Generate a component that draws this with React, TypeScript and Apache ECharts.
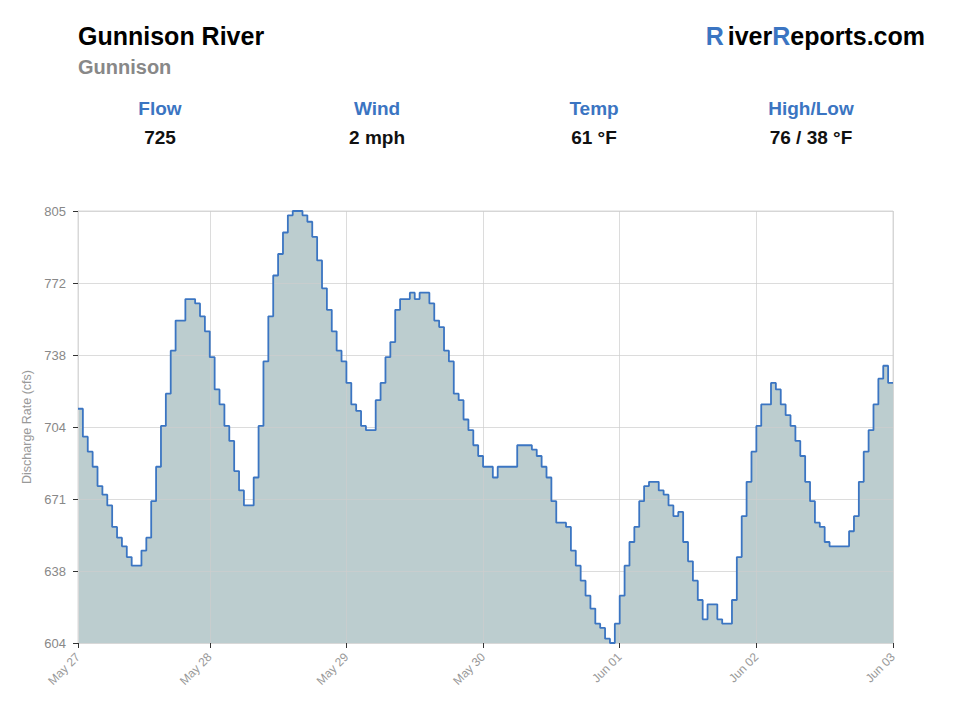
import React, { useEffect, useRef } from 'react';
import * as echarts from 'echarts';

// Hourly discharge (cfs), May 27 → Jun 03
const flowValues = [
  713, 700, 693, 686, 677, 673, 668, 658, 653, 649, 644, 640, 640, 647, 653, 670,
  686, 705, 720, 740, 754, 754, 764, 764, 762, 756, 749, 737, 722, 715, 705, 698,
  684, 675, 668, 668, 681, 705, 735, 756, 775, 785, 795, 803, 805, 805, 803, 800,
  793, 782, 769, 759, 749, 740, 735, 725, 715, 712, 705, 703, 703, 717, 725, 737,
  744, 759, 764, 764, 767, 764, 767, 767, 762, 754, 751, 740, 735, 720, 717, 708,
  703, 696, 691, 686, 686, 681, 686, 686, 686, 686, 696, 696, 696, 694, 691, 686,
  681, 670, 660, 660, 658, 647, 640, 633, 626, 620, 613, 611, 606, 604, 613, 626,
  640, 651, 658, 670, 677, 679, 679, 675, 673, 668, 663, 665, 651, 642, 633, 624,
  615, 622, 622, 615, 613, 613, 624, 644, 663, 679, 693, 705, 715, 715, 725, 722,
  715, 710, 705, 698, 691, 679, 670, 660, 658, 651, 649, 649, 649, 649, 656, 663,
  679, 693, 703, 715, 727, 733, 725,
];

const xTickIndices = [0, 27, 55, 83, 111, 139, 167];
const xTickLabels = ['May 27', 'May 28', 'May 29', 'May 30', 'Jun 01', 'Jun 02', 'Jun 03'];
const yTickValues = [604, 637.5, 671, 704.5, 738, 771.5, 805];
const yTickLabels = ['604', '638', '671', '704', '738', '772', '805'];

const statLabels = ['Flow', 'Wind', 'Temp', 'High/Low'];
const statValues = ['725', '2 mph', '61 °F', '76 / 38 °F'];
const riverName = 'Gunnison River';
const siteName = 'Gunnison';

const FONT = '"Liberation Sans", Arial, Helvetica, sans-serif';
const BLUE = '#3b75c2';

export default function App() {
  const ref = useRef<HTMLDivElement>(null);

  useEffect(() => {
    if (!ref.current) return;
    const chart = echarts.init(ref.current, undefined, { renderer: 'svg' });

    const categories = Array.from({ length: flowValues.length + 1 }, (_, i) => String(i));
    const seriesData = [...flowValues, flowValues[flowValues.length - 1]];
    const isTick = (i: number) => xTickIndices.indexOf(i) >= 0;

    const statCenters = [160, 377, 594, 811];
    const statGraphics: any[] = [];
    statLabels.forEach((lab, i) => {
      statGraphics.push({
        type: 'text',
        x: statCenters[i],
        y: 108,
        style: {
          text: lab,
          fill: BLUE,
          font: `bold 19px ${FONT}`,
          textAlign: 'center',
          textVerticalAlign: 'middle',
        },
      });
      statGraphics.push({
        type: 'text',
        x: statCenters[i],
        y: 137,
        style: {
          text: statValues[i],
          fill: '#111',
          font: `bold 19px ${FONT}`,
          textAlign: 'center',
          textVerticalAlign: 'middle',
        },
      });
    });

    const option: any = {
      animation: false,
      textStyle: { fontFamily: FONT },
      grid: {
        left: 78,
        right: 67,
        top: 211,
        bottom: 77,
        show: true,
        borderColor: '#d8d8d8',
        borderWidth: 1,
      },
      graphic: [
        {
          type: 'text',
          x: 78,
          y: 36,
          style: {
            text: riverName,
            fill: '#000',
            font: `bold 25px ${FONT}`,
            textAlign: 'left',
            textVerticalAlign: 'middle',
          },
        },
        {
          type: 'text',
          x: 78,
          y: 67,
          style: {
            text: siteName,
            fill: '#888',
            font: `bold 20px ${FONT}`,
            textAlign: 'left',
            textVerticalAlign: 'middle',
          },
        },
        {
          type: 'text',
          x: 925,
          y: 36,
          style: {
            text: '{b1|R}{k|iver}{b|R}{k|eports.com}',
            textAlign: 'right',
            textVerticalAlign: 'middle',
            font: `bold 25px ${FONT}`,
            rich: {
              b1: { fill: BLUE, font: `bold 25px ${FONT}`, padding: [0, 4, 0, 0] },
              b: { fill: BLUE, font: `bold 25px ${FONT}` },
              k: { fill: '#000', font: `bold 25px ${FONT}` },
            },
          },
        },
        ...statGraphics,
      ],
      xAxis: {
        type: 'category',
        data: categories,
        boundaryGap: false,
        z: 3,
        axisLine: { show: true, lineStyle: { color: '#d8d8d8', width: 1 } },
        axisTick: {
          show: true,
          interval: (i: number) => isTick(i),
          length: 5,
          lineStyle: { color: '#333', width: 1 },
        },
        axisLabel: {
          interval: (i: number) => isTick(i),
          formatter: (_v: string, i: number) => {
            const k = xTickIndices.indexOf(i);
            return k >= 0 ? xTickLabels[k] : '';
          },
          rotate: 45,
          color: '#999',
          fontSize: 12,
          margin: 12,
        },
        splitLine: {
          show: true,
          interval: (i: number) => isTick(i),
          lineStyle: { color: 'rgba(205,205,205,0.7)', width: 1 },
        },
      },
      yAxis: {
        type: 'value',
        min: 604,
        max: 805,
        z: 3,
        name: 'Discharge Rate (cfs)',
        nameLocation: 'middle',
        nameGap: 42,
        nameTextStyle: { color: '#999', fontSize: 12.5 },
        axisLine: { show: true, lineStyle: { color: '#d8d8d8', width: 1 } },
        axisTick: {
          show: true,
          customValues: yTickValues,
          length: 5,
          lineStyle: { color: '#333', width: 1 },
        },
        axisLabel: {
          customValues: yTickValues,
          color: '#888',
          fontSize: 13,
          margin: 12,
          formatter: (v: number) => {
            const k = yTickValues.findIndex((t) => Math.abs(t - v) < 0.01);
            return k >= 0 ? yTickLabels[k] : '';
          },
        },
        splitLine: {
          show: true,
          lineStyle: { color: 'rgba(205,205,205,0.7)', width: 1 },
        },
      },
      series: [
        {
          type: 'line',
          step: 'end',
          data: seriesData,
          symbol: 'none',
          z: 2,
          lineStyle: { width: 0 },
          areaStyle: { color: '#bccdcf', opacity: 1 },
          silent: true,
        },
        {
          type: 'line',
          step: 'end',
          data: seriesData,
          symbol: 'none',
          z: 4,
          lineStyle: { color: BLUE, width: 1.8 },
        },
      ],
    };

    chart.setOption(option);
    return () => chart.dispose();
  }, []);

  return (
    <div
      ref={ref}
      style={{ position: 'absolute', left: 0, top: 0, width: 960, height: 720 }}
    />
  );
}
